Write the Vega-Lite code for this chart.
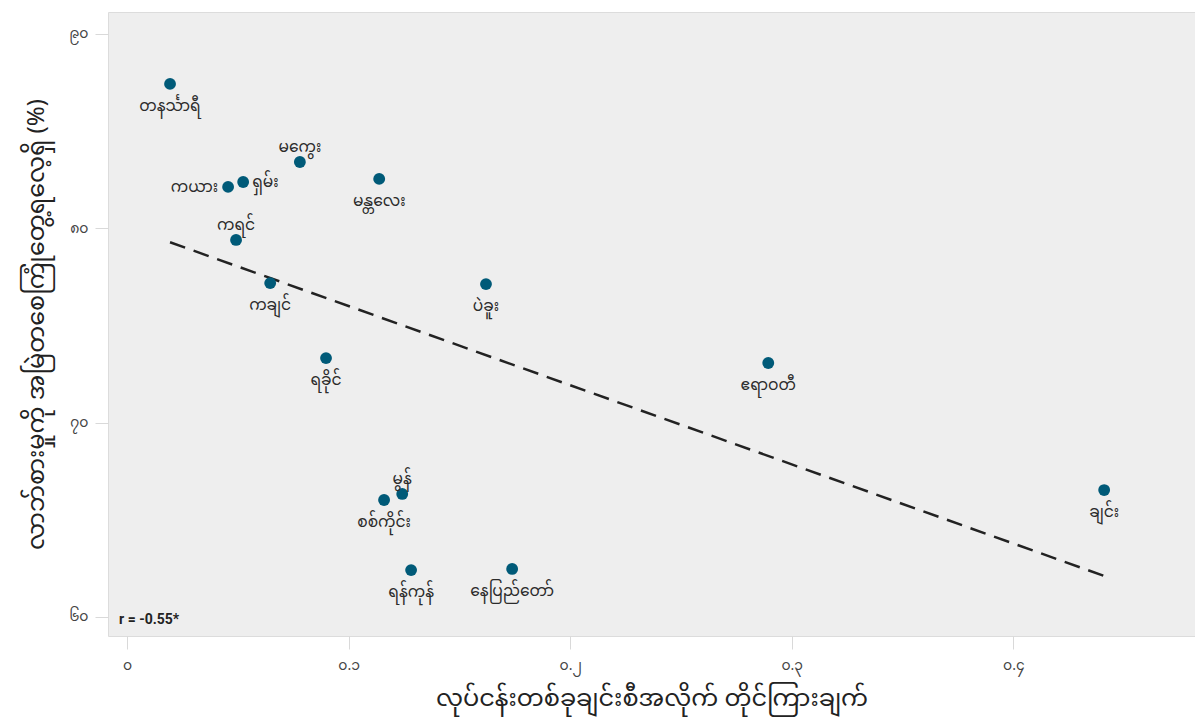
{
  "$schema": "https://vega.github.io/schema/vega-lite/v6.json",
  "width": 1087,
  "height": 624,
  "autosize": {"type": "none"},
  "padding": {"left": 108, "top": 12, "right": 0, "bottom": 83},
  "background": "#ffffff",
  "config": {
    "font": "Noto Sans Myanmar, Padauk, Myanmar Text, sans-serif",
    "view": {"fill": "#eeeeee", "stroke": "#dcdcdc", "strokeWidth": 1},
    "axis": {
      "grid": false,
      "domain": false,
      "tickColor": "#d9d9d9",
      "tickWidth": 1,
      "tickSize": 13,
      "labelColor": "#444444",
      "labelFontSize": 14,
      "titleColor": "#222222",
      "titleFontSize": 24,
      "titleFontWeight": "normal",
      "labelFont": "Noto Sans Myanmar, Padauk, sans-serif",
      "titleFont": "Noto Sans Myanmar, Padauk, sans-serif"
    }
  },
  "layer": [
    {
      "data": {"name": "regions"},
      "transform": [{"regression": "y", "on": "x"}],
      "mark": {"type": "line", "color": "#222222", "strokeWidth": 2.5, "strokeDash": [16, 9]},
      "encoding": {
        "x": {
          "field": "x", "type": "quantitative",
          "scale": {"domain": [-0.0086, 0.482], "nice": false, "zero": false},
          "axis": {
            "values": [0, 0.1, 0.2, 0.3, 0.4],
            "format": "~g",
            "labelPadding": 9,
            "titlePadding": 14,
            "labelExpr": "replace(replace(replace(replace(replace(replace(replace(replace(replace(replace(datum.label,/0/g,'၀'),/1/g,'၁'),/2/g,'၂'),/3/g,'၃'),/4/g,'၄'),/5/g,'၅'),/6/g,'၆'),/7/g,'၇'),/8/g,'၈'),/9/g,'၉')",
            "title": "လုပ်ငန်းတစ်ခုချင်းစီအလိုက် တိုင်ကြားချက်"
          }
        },
        "y": {
          "field": "y", "type": "quantitative",
          "scale": {"domain": [59.02, 91.13], "nice": false, "zero": false},
          "axis": {
            "values": [60, 70, 80, 90],
            "labelPadding": 7,
            "titlePadding": 20,
            "labelExpr": "replace(replace(replace(replace(replace(replace(replace(replace(replace(replace(datum.label,/0/g,'၀'),/1/g,'၁'),/2/g,'၂'),/3/g,'၃'),/4/g,'၄'),/5/g,'၅'),/6/g,'၆'),/7/g,'၇'),/8/g,'၈'),/9/g,'၉')",
            "title": "လာဘ်စားမှုကို အမြဲတစေကြုံတွေ့ရလေ့ရှိ (%)"
          }
        }
      }
    },
    {
      "data": {"name": "regions"},
      "mark": {"type": "circle", "color": "#005a78", "opacity": 1, "size": 140},
      "encoding": {"x": {"field": "x", "type": "quantitative"}, "y": {"field": "y", "type": "quantitative"}}
    },
    {
      "data": {"name": "regions"},
      "transform": [{"filter": "indexof(['မကွေး','ကရင်','မွန်','ကယား','ရှမ်း'], datum.region) < 0"}],
      "mark": {"type": "text", "color": "#2b2b2b", "fontSize": 15.5, "baseline": "middle", "align": "center", "dy": 22},
      "encoding": {"x": {"field": "x", "type": "quantitative"}, "y": {"field": "y", "type": "quantitative"}, "text": {"field": "region"}}
    },
    {
      "data": {"name": "regions"},
      "transform": [{"filter": "indexof(['မကွေး','ကရင်','မွန်'], datum.region) >= 0"}],
      "mark": {"type": "text", "color": "#2b2b2b", "fontSize": 15.5, "baseline": "middle", "align": "center", "dy": -15},
      "encoding": {"x": {"field": "x", "type": "quantitative"}, "y": {"field": "y", "type": "quantitative"}, "text": {"field": "region"}}
    },
    {
      "data": {"name": "regions"},
      "transform": [{"filter": "datum.region === 'ကယား'"}],
      "mark": {"type": "text", "color": "#2b2b2b", "fontSize": 15.5, "baseline": "middle", "align": "right", "dx": -10},
      "encoding": {"x": {"field": "x", "type": "quantitative"}, "y": {"field": "y", "type": "quantitative"}, "text": {"field": "region"}}
    },
    {
      "data": {"name": "regions"},
      "transform": [{"filter": "datum.region === 'ရှမ်း'"}],
      "mark": {"type": "text", "color": "#2b2b2b", "fontSize": 15.5, "baseline": "middle", "align": "left", "dx": 9},
      "encoding": {"x": {"field": "x", "type": "quantitative"}, "y": {"field": "y", "type": "quantitative"}, "text": {"field": "region"}}
    },
    {
      "data": {"name": "note"},
      "mark": {"type": "text", "color": "#222222", "fontSize": 14, "fontWeight": "bold", "font": "Roboto", "align": "left", "baseline": "middle"},
      "encoding": {
        "x": {"datum": -0.0036, "type": "quantitative"},
        "y": {"datum": 59.84, "type": "quantitative"},
        "text": {"field": "label", "type": "nominal"}
      }
    }
  ],
  "datasets": {
    "regions": [
      {"region": "တနင်္သာရီ", "x": 0.0194, "y": 87.43},
      {"region": "မကွေး", "x": 0.078, "y": 83.41},
      {"region": "ကယား", "x": 0.0456, "y": 82.13},
      {"region": "ရှမ်း", "x": 0.0524, "y": 82.38},
      {"region": "မန္တလေး", "x": 0.1138, "y": 82.54},
      {"region": "ကရင်", "x": 0.0492, "y": 79.40},
      {"region": "ကချင်", "x": 0.0646, "y": 77.18},
      {"region": "ပဲခူး", "x": 0.162, "y": 77.13},
      {"region": "ရခိုင်", "x": 0.0898, "y": 73.32},
      {"region": "ဧရာဝတီ", "x": 0.2894, "y": 73.07},
      {"region": "မွန်", "x": 0.1242, "y": 66.33},
      {"region": "စစ်ကိုင်း", "x": 0.116, "y": 66.02},
      {"region": "ရန်ကုန်", "x": 0.1282, "y": 62.41},
      {"region": "နေပြည်တော်", "x": 0.1738, "y": 62.47},
      {"region": "ချင်း", "x": 0.441, "y": 66.53}
    ],
    "note": [{"label": "r = -0.55*"}]
  }
}
